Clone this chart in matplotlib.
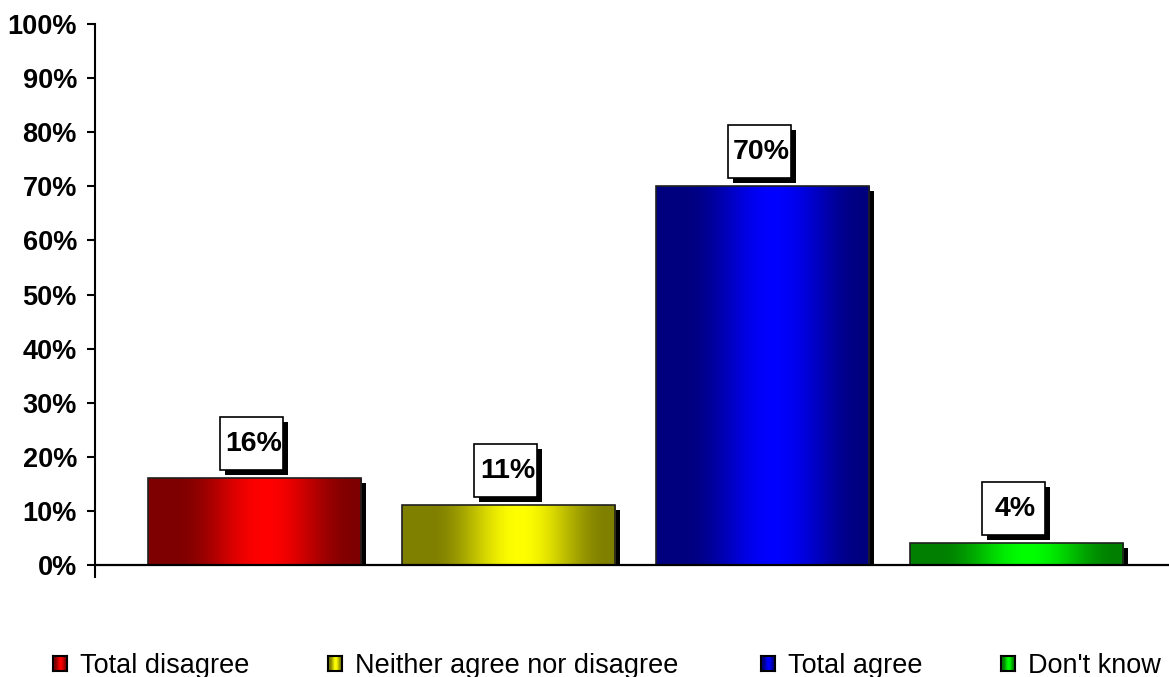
import numpy as np
import matplotlib
matplotlib.use("Agg")
import matplotlib.pyplot as plt
import matplotlib.transforms as mtransforms
from matplotlib.patches import Rectangle

categories = ["Total disagree", "Neither agree nor disagree", "Total agree", "Don't know"]
values = [16, 11, 70, 4]
colors = [(1, 0, 0), (1, 1, 0), (0, 0, 1), (0, 1, 0)]
yticks = list(range(0, 101, 10))
ytick_labels = [f"{t}%" for t in yticks]

plt.rcParams['font.family'] = ['Liberation Sans', 'DejaVu Sans']


def gradient(color, n=256):
    # dark at both edges, bright a bit right of centre
    t = np.linspace(0, 1, n)
    d = np.clip(np.abs(t - 0.55) / 0.42, 0, 1)
    b = 0.5 + 0.5 * (0.5 + 0.5 * np.cos(np.pi * d))
    img = np.array(color)[None, :] * b[:, None]
    return img[None, :, :]


W, H = 1169, 677
fig = plt.figure(figsize=(W / 100, H / 100), dpi=100)
ax = fig.add_axes([95 / W, 100 / H, 1074 / W, 553 / H])
ymin, ymax = -2.218, 100
xmin, xmax = -0.628, 3.600
px_per_unit = 553 / (ymax - ymin)
bw = 0.84

for i, (v, c) in enumerate(zip(values, colors)):
    x0 = i - bw / 2
    sh = 5 / px_per_unit
    shadow_tr = mtransforms.offset_copy(ax.transData, fig=fig, x=5, y=-5, units='dots')
    ax.add_patch(Rectangle((x0, sh), bw, v - sh, facecolor='black', edgecolor='none',
                           transform=shadow_tr, zorder=1))
    ax.imshow(gradient(c), extent=[x0, x0 + bw, 0, v], aspect='auto',
              interpolation='bilinear', zorder=2)
    ax.add_patch(Rectangle((x0, 0), bw, v, fill=False, edgecolor='#202020', lw=1.2, zorder=3))

    # value label box with shadow
    tr = fig.dpi_scale_trans + mtransforms.ScaledTranslation(i, v, ax.transData)
    bl, bb, bwid, bh = -0.35, 0.08, 0.63, 0.53
    ax.add_patch(Rectangle((bl + 0.05, bb - 0.05), bwid, bh, facecolor='black',
                           edgecolor='none', transform=tr, zorder=5, clip_on=False))
    ax.add_patch(Rectangle((bl, bb), bwid, bh, facecolor='white', edgecolor='black',
                           lw=1.2, transform=tr, zorder=6, clip_on=False))
    ax.text(bl + bwid / 2 + 0.025, bb + bh / 2, f"{v}%", transform=tr, ha='center',
            va='center', fontsize=20.5, fontweight='bold', zorder=7)

ax.axhline(0, color='black', lw=1.6, zorder=4)
ax.set_xlim(xmin, xmax)
ax.set_ylim(ymin, ymax)
ax.set_xticks([])
ax.set_yticks(yticks)
ax.set_yticklabels(ytick_labels, fontsize=19.5, fontweight='bold')
ax.tick_params(axis='y', length=6, width=1.5, pad=7, direction='out')
for s in ['top', 'right', 'bottom']:
    ax.spines[s].set_visible(False)
ax.spines['left'].set_linewidth(1.5)

# legend
sq_x = [53, 328, 761, 1001]
tx_x = [80, 355, 788, 1028]
for c, lab, sx, tx in zip(colors, categories, sq_x, tx_x):
    lax = fig.add_axes([sx / W, (H - 671) / H, 14 / W, 15 / H])
    lax.imshow(gradient(c, 32), aspect='auto', interpolation='bilinear')
    lax.set_xticks([])
    lax.set_yticks([])
    for s in lax.spines.values():
        s.set_linewidth(1.5)
    fig.text(tx / W, (H - 673) / H, lab, va='baseline', ha='left', fontsize=19.5)

fig.savefig("out.png", dpi=100)
